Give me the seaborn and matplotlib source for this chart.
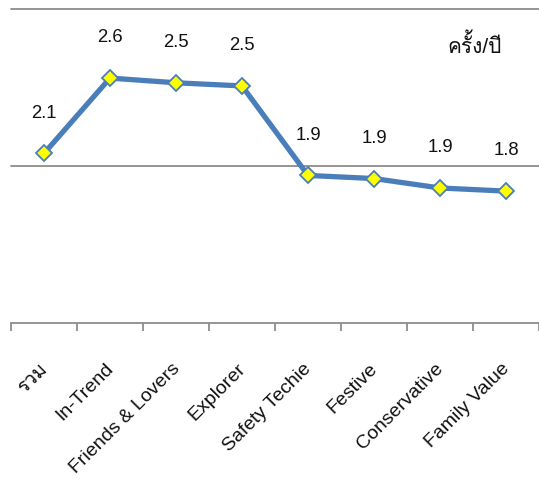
import numpy as np
import pandas as pd
import matplotlib
matplotlib.use("Agg")
import matplotlib.pyplot as plt
import matplotlib.transforms as mtransforms
import seaborn as sns
from matplotlib import font_manager
from fontTools.ttLib import TTFont

categories = ["รวม", "In-Trend", "Friends & Lovers", "Explorer",
              "Safety Techie", "Festive", "Conservative", "Family Value"]
visits_per_year = [2.08, 2.56, 2.53, 2.51, 1.94, 1.92, 1.86, 1.84]
unit_label = "ครั้ง/ปี"


def thai_family():
    """Return the name of an installed font family that covers Thai."""
    for fe in font_manager.fontManager.ttflist:
        try:
            cmap = TTFont(fe.fname, fontNumber=0, lazy=True).getBestCmap()
        except Exception:
            continue
        if cmap and 0x0E04 in cmap and 0x0E23 in cmap:
            return fe.name
    return None


sns.set_theme(style="white")
fams = ["Liberation Sans"]
tf = thai_family()
if tf:
    fams.append(tf)
fams.append("DejaVu Sans")
plt.rcParams["font.family"] = fams

df = pd.DataFrame({"segment": categories, "value": visits_per_year})

W, H = 539, 479
fig = plt.figure(figsize=(W / 100, H / 100), dpi=100)
ax = fig.add_axes([11 / W, (H - 323) / H, (W - 11) / W, (323 - 9) / H])

blue = "#4a7ebb"
sns.lineplot(data=df, x="segment", y="value", sort=False, ax=ax,
             color=blue, linewidth=3.8, marker="D", markersize=8.6,
             markerfacecolor="#ffff00", markeredgecolor=blue,
             markeredgewidth=1.3, zorder=3)

ax.set_xlim(-0.5, len(categories) - 0.5)
ax.set_ylim(1, 3)
ax.set_xlabel("")
ax.set_ylabel("")

# horizontal gridlines
grid_c = "#8c8c8c"
for yv in (2, 3):
    ax.axhline(yv, color=grid_c, linewidth=1.3, zorder=1, clip_on=False)

for s in ("left", "right", "top"):
    ax.spines[s].set_visible(False)
ax.spines["bottom"].set_color(grid_c)
ax.spines["bottom"].set_linewidth(1.3)
ax.set_yticks([])

# category labels at centers, tick marks at boundaries
ax.set_xticks(range(len(categories)))
ax.set_xticklabels(categories, rotation=45, ha="right",
                   rotation_mode="anchor", fontsize=14, color="#111111")
ax.tick_params(axis="x", which="major", length=0, pad=27)
shift = mtransforms.ScaledTranslation(-5 / 100, 0, fig.dpi_scale_trans)
for lab in ax.get_xticklabels():
    lab.set_transform(lab.get_transform() + shift)
ax.set_xticks(np.arange(-0.5, len(categories), 1.0), minor=True)
ax.tick_params(axis="x", which="minor", length=6, width=1.3,
               color=grid_c, direction="out", bottom=True)

# value labels above each point
for i, v in enumerate(visits_per_year):
    ax.annotate(f"{v:.1f}", (i, v), xytext=(0, 29), textcoords="offset points",
                ha="center", va="center", fontsize=13.3, color="#111111")

ax.text(6.53, 2.77, unit_label, ha="center", va="center",
        fontsize=15, color="#111111")

fig.savefig("out.png", dpi=100)
